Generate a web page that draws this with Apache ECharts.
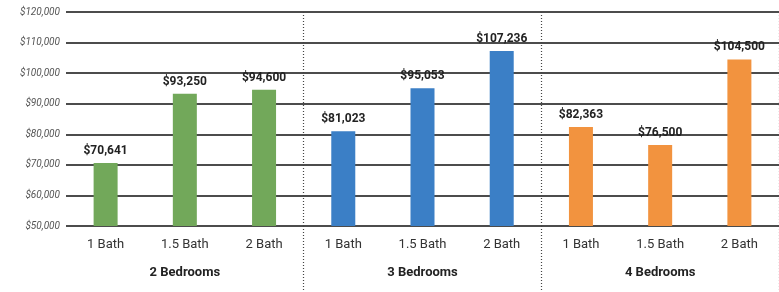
<!DOCTYPE html>
<html>
<head>
<meta charset="utf-8">
<script src="https://cdn.jsdelivr.net/npm/echarts@6/dist/echarts.min.js"></script>
<style>
  html, body { margin: 0; padding: 0; background: #fff; }
  #chart { width: 779px; height: 292px; }
</style>
</head>
<body>
<div id="chart"></div>
<script>
const bathLabels = ['1 Bath', '1.5 Bath', '2 Bath', '1 Bath', '1.5 Bath', '2 Bath', '1 Bath', '1.5 Bath', '2 Bath']
const bedroomGroups = ['2 Bedrooms', '3 Bedrooms', '4 Bedrooms']
const rentValues = [70641, 93250, 94600, 81023, 95053, 107236, 82363, 76500, 104500]
const groupColors = ['#72a85a', '#3b7fc6', '#f2933f']

const money = v => '$' + v.toLocaleString('en-US')

const chart = echarts.init(document.getElementById('chart'))

const option = {
  animation: false,
  textStyle: { fontFamily: 'Roboto' },
  grid: { left: 66, right: 0, top: 12, bottom: 66 },
  xAxis: [
    {
      type: 'category',
      data: bathLabels,
      axisLine: { show: false },
      axisTick: { show: false },
      axisLabel: { color: '#333', fontSize: 13, margin: 12 }
    },
    {
      type: 'category',
      data: bedroomGroups,
      position: 'bottom',
      axisLine: { show: false },
      axisTick: {
        show: true,
        interval: i => i === 1 || i === 2,
        length: 64,
        lineStyle: { color: '#444', type: [1, 2], width: 1.2 }
      },
      splitLine: {
        show: true,
        interval: i => i === 1 || i === 2,
        lineStyle: { color: '#444', type: [1, 2], width: 1.2 }
      },
      axisLabel: { color: '#222', fontSize: 13, fontWeight: 'bold', margin: 40 }
    }
  ],
  yAxis: {
    type: 'value',
    min: 50000,
    max: 120000,
    interval: 10000,
    axisLine: { show: false },
    axisTick: { show: false },
    axisLabel: {
      color: '#555',
      fontSize: 10,
      fontStyle: 'italic',
      margin: 6,
      formatter: money
    },
    splitLine: { lineStyle: { color: '#111', width: 1.6 } }
  },
  series: [
    {
      type: 'bar',
      xAxisIndex: 0,
      barWidth: 24,
      z: 3,
      data: rentValues.map((v, i) => ({
        value: v,
        itemStyle: { color: groupColors[Math.floor(i / 3)] }
      })),
      label: {
        show: true,
        position: 'top',
        distance: 6,
        color: '#222',
        fontSize: 12,
        fontWeight: 'bold',
        formatter: p => money(p.value)
      }
    }
  ]
}

chart.setOption(option)
</script>
</body>
</html>
